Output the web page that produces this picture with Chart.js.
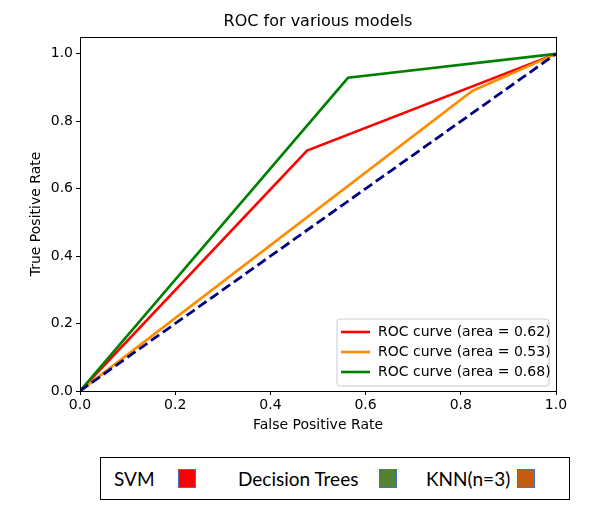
<!DOCTYPE html>
<html>
<head>
<meta charset="utf-8">
<script src="https://cdn.jsdelivr.net/npm/chart.js@4.4.0/dist/chart.umd.min.js"></script>
<style>
  html, body { margin: 0; padding: 0; background: #fff; }
  #wrap { position: relative; width: 603px; height: 507px; overflow: hidden; }
  #c { position: absolute; left: 0; top: 0; }
  #legend2 { position: absolute; left: 100px; top: 457px; width: 468px; height: 41px; border: 1.5px solid #000; font-family: Lato, "Liberation Sans", sans-serif; font-size: 19px; color: #000; }
  #legend2 .t { position: absolute; top: 0; line-height: 41px; white-space: nowrap; }
  #legend2 .s { position: absolute; top: 11px; width: 16px; height: 17px; border: 1px solid #4472C4; }
</style>
</head>
<body>
<div id="wrap">
  <canvas id="c" width="603" height="440"></canvas>
  <div id="legend2"></div>
</div>
<script>
// ---- data ----
const svmFpr = [0, 0.477, 1];
const svmTpr = [0, 0.713, 1];
const knnFpr = [0, 0.824, 1];
const knnTpr = [0, 0.89, 1];
const dtFpr = [0, 0.563, 1];
const dtTpr = [0, 0.929, 1];
const chanceFpr = [0, 1];
const chanceTpr = [0, 1];
const aucValues = [0.62, 0.53, 0.68];
const curveColors = ['#ff0000', '#ff8c00', '#008000'];
const xTicks = [0, 0.2, 0.4, 0.6, 0.8, 1.0];
const yTicks = [0, 0.2, 0.4, 0.6, 0.8, 1.0];
const chartTitle = 'ROC for various models';
const modelNames = ['SVM', 'Decision Trees', 'KNN(n=3)'];
const modelColors = ['#ff0000', '#548235', '#c55a11'];

function pts(xs, ys) { return xs.map((x, i) => ({ x: x, y: ys[i] })); }

const curves = [
  { fpr: svmFpr, tpr: svmTpr },
  { fpr: knnFpr, tpr: knnTpr },
  { fpr: dtFpr, tpr: dtTpr }
];

const datasets = curves.map((c, i) => ({
  label: 'ROC curve (area = ' + aucValues[i].toFixed(2) + ')',
  data: pts(c.fpr, c.tpr),
  borderColor: curveColors[i],
  backgroundColor: curveColors[i],
  borderWidth: 2.6,
  showLine: true,
  pointRadius: 0,
  fill: false,
  tension: 0,
  order: 3 - i
}));
datasets.push({
  label: 'chance',
  data: pts(chanceFpr, chanceTpr),
  borderColor: '#000080',
  borderWidth: 2.8,
  borderDash: [10, 4.5],
  showLine: true,
  pointRadius: 0,
  fill: false,
  order: 0,
  isChance: true
});

const FONT = '"DejaVu Sans", sans-serif';

const frame = {
  id: 'frame',
  afterDatasetsDraw(chart) {
    const { ctx, chartArea: a } = chart;
    ctx.save();
    ctx.strokeStyle = '#000';
    ctx.lineWidth = 1;
    ctx.strokeRect(Math.round(a.left) + 0.5, Math.round(a.top) + 0.5, Math.round(a.right - a.left), Math.round(a.bottom - a.top));
    ctx.restore();
  }
};

const axesTitle = {
  id: 'axesTitle',
  afterDraw(chart) {
    const { ctx, chartArea: a } = chart;
    ctx.save();
    ctx.font = '16px ' + FONT;
    ctx.fillStyle = '#000';
    ctx.textAlign = 'center';
    ctx.textBaseline = 'middle';
    ctx.fillText(chartTitle, (a.left + a.right) / 2, a.top - 15);
    ctx.restore();
  }
};

const innerLegend = {
  id: 'innerLegend',
  afterDraw(chart) {
    const { ctx, chartArea: a } = chart;
    const items = chart.data.datasets.filter(d => !d.isChance);
    const w = 212, rowH = 20, h = 14 + rowH * items.length - 7;
    const right = a.right - 7, bottom = a.bottom - 5;
    const left = right - w, top = bottom - h;
    ctx.save();
    ctx.beginPath();
    const r = 3;
    ctx.moveTo(left + r, top);
    ctx.lineTo(right - r, top); ctx.quadraticCurveTo(right, top, right, top + r);
    ctx.lineTo(right, bottom - r); ctx.quadraticCurveTo(right, bottom, right - r, bottom);
    ctx.lineTo(left + r, bottom); ctx.quadraticCurveTo(left, bottom, left, bottom - r);
    ctx.lineTo(left, top + r); ctx.quadraticCurveTo(left, top, left + r, top);
    ctx.closePath();
    ctx.fillStyle = 'rgba(255,255,255,0.8)';
    ctx.fill();
    ctx.strokeStyle = '#cccccc';
    ctx.lineWidth = 1;
    ctx.stroke();
    ctx.font = '14px ' + FONT;
    ctx.textBaseline = 'middle';
    ctx.fillStyle = '#000';
    items.forEach((d, i) => {
      const y = top + 13 + i * rowH;
      ctx.beginPath();
      ctx.strokeStyle = d.borderColor;
      ctx.lineWidth = 2.6;
      ctx.moveTo(left + 4, y);
      ctx.lineTo(left + 33, y);
      ctx.stroke();
      ctx.fillText(d.label, left + 41, y);
    });
    ctx.restore();
  }
};

new Chart(document.getElementById('c'), {
  type: 'scatter',
  data: { datasets: datasets },
  options: {
    responsive: false,
    animation: false,
    devicePixelRatio: 1,
    layout: { padding: { left: 0, right: 47, top: 37, bottom: 0 } },
    plugins: {
      legend: { display: false },
      tooltip: { enabled: false },
      title: { display: false }
    },
    scales: {
      x: {
        type: 'linear',
        min: 0, max: 1,
        afterBuildTicks(s) { s.ticks = xTicks.map(v => ({ value: v })); },
        afterFit(s) { s.height = 49; },
        ticks: { color: '#000', font: { family: FONT, size: 14 }, padding: 2, callback: v => Number(v).toFixed(1), maxRotation: 0 },
        grid: { display: true, drawOnChartArea: false, drawTicks: true, tickLength: 4, color: '#000' },
        border: { display: true, color: '#000' },
        title: { display: true, text: 'False Positive Rate', color: '#000', font: { family: FONT, size: 14 }, padding: { top: 0, bottom: 6.6 } }
      },
      y: {
        type: 'linear',
        min: 0, max: 1.05,
        afterBuildTicks(s) { s.ticks = yTicks.map(v => ({ value: v })); },
        afterFit(s) { s.width = 80; },
        ticks: { color: '#000', font: { family: FONT, size: 14 }, padding: 3, callback: v => Number(v).toFixed(1) },
        grid: { display: true, drawOnChartArea: false, drawTicks: true, tickLength: 4, color: '#000' },
        border: { display: true, color: '#000' },
        title: { display: true, text: 'True Positive Rate', color: '#000', font: { family: FONT, size: 14 }, padding: { top: 28, bottom: 0 } }
      }
    }
  },
  plugins: [frame, axesTitle, innerLegend]
});

// bottom legend (static key)
const lg = document.getElementById('legend2');
const textX = [13, 137, 325];
const boxX = [77, 278, 416];
modelNames.forEach((n, i) => {
  const t = document.createElement('span');
  t.className = 't'; t.textContent = n; t.style.left = textX[i] + 'px';
  lg.appendChild(t);
  const s = document.createElement('span');
  s.className = 's'; s.style.left = boxX[i] + 'px'; s.style.background = modelColors[i];
  lg.appendChild(s);
});
</script>
</body>
</html>
